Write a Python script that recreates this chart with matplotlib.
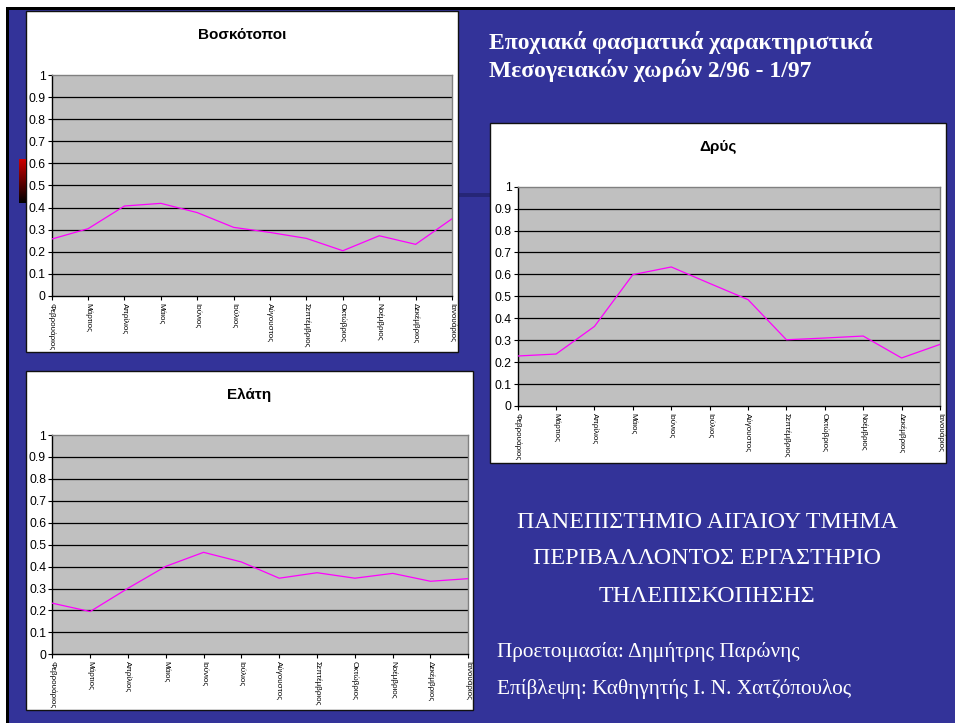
import matplotlib
matplotlib.use("Agg")
import matplotlib.pyplot as plt
import numpy as np
from matplotlib.patches import Rectangle
from matplotlib.colors import LinearSegmentedColormap

W, H = 955, 723

months = ["Φεβρουάριος", "Μάρτιος", "Απρίλιος", "Μάιος", "Ιούνιος", "Ιούλιος",
          "Αύγουστος", "Σεπτέμβριος", "Οκτώβριος", "Νοέμβριος", "Δεκέμβριος",
          "Ιανουάριος"]

# seasonal spectral index per month, 2/96 - 1/97
voskotopoi = [0.257, 0.304, 0.407, 0.419, 0.377, 0.310, 0.287, 0.260, 0.204, 0.272, 0.233, 0.349]
drys = [0.228, 0.237, 0.363, 0.599, 0.634, 0.559, 0.485, 0.302, 0.310, 0.319, 0.219, 0.281]
elati = [0.233, 0.195, 0.301, 0.401, 0.465, 0.421, 0.347, 0.372, 0.347, 0.369, 0.333, 0.345]

yticks = [0, 0.1, 0.2, 0.3, 0.4, 0.5, 0.6, 0.7, 0.8, 0.9, 1]
ytick_labels = ["0", "0.1", "0.2", "0.3", "0.4", "0.5", "0.6", "0.7", "0.8", "0.9", "1"]

BLUE = "#333399"
SANS = ["Liberation Sans", "DejaVu Sans"]
SERIF = ["Liberation Serif", "DejaVu Serif"]


def fx(x):
    return x / W


def fy(y):
    return 1 - y / H


def rect(x0, y0, x1, y1, **kw):
    r = Rectangle((fx(x0), fy(y1)), fx(x1) - fx(x0), fy(y0) - fy(y1),
                  transform=fig.transFigure, **kw)
    fig.add_artist(r)
    return r


def chart(box, plot, title, values):
    # white panel behind each chart
    rect(*box, facecolor="white", edgecolor="#111111", linewidth=1.0, zorder=-1)
    x0, y0, x1, y1 = plot
    ax = fig.add_axes([fx(x0), fy(y1), fx(x1) - fx(x0), fy(y0) - fy(y1)])
    ax.set_facecolor("#c0c0c0")
    x = np.arange(len(values))
    ax.plot(x, values, color="#ff00ff", linewidth=0.9, zorder=3)
    ax.set_xlim(0, len(values) - 1)
    ax.set_ylim(0, 1)
    ax.set_yticks(yticks)
    ax.set_yticklabels(ytick_labels, family=SANS, fontsize=8.8)
    ax.set_xticks(x)
    ax.set_xticklabels(months, rotation=270, family=SANS, fontsize=5.8)
    for y in yticks[1:-1]:
        ax.axhline(y, color="black", linewidth=0.9, zorder=2)
    for s in ["top", "right"]:
        ax.spines[s].set_color("#808080")
        ax.spines[s].set_linewidth(1.0)
    for s in ["left", "bottom"]:
        ax.spines[s].set_color("black")
        ax.spines[s].set_linewidth(1.0)
    ax.tick_params(axis="both", direction="out", length=3, width=0.8, color="black")
    ax.tick_params(axis="y", pad=1.5)
    ax.tick_params(axis="x", pad=2)
    cx = (box[0] + box[2]) / 2
    fig.text(fx(cx), fy(plot[1] - 40), title, ha="center", va="center",
             family=SANS, fontsize=11, fontweight="bold", color="black")
    return ax


fig = plt.figure(figsize=(W / 100, H / 100), dpi=100)
fig.patch.set_facecolor("white")

# slide background with dark frame on top and left
rect(9, 10, W + 2, H + 2, facecolor=BLUE, edgecolor="none", zorder=-3)
rect(6, 7, W + 2, 10, facecolor="black", edgecolor="none", zorder=-3)
rect(6, 7, 9, H + 2, facecolor="black", edgecolor="none", zorder=-3)

# connector bar and colour swatch
rect(458, 193, 490, 197, facecolor="#262677", edgecolor="none", zorder=-2)
sw = fig.add_axes([fx(19), fy(203), fx(26) - fx(19), fy(159) - fy(203)])
grad = np.linspace(1, 0, 64).reshape(-1, 1)
sw.imshow(grad, aspect="auto",
          cmap=LinearSegmentedColormap.from_list("rb", ["#000000", "#cc0000"]))
sw.axis("off")

chart((26, 11, 458, 352), (51.7, 75.3, 452, 295.7), "Βοσκότοποι", voskotopoi)
chart((490, 123, 946, 463), (517.7, 186.7, 940, 406), "Δρύς", drys)
chart((26, 371, 473, 710), (52.3, 435, 468.3, 654.3), "Ελάτη", elati)

fig.text(fx(489), fy(43), "Εποχιακά φασματικά χαρακτηριστικά", ha="left", va="center",
         family=SERIF, fontsize=17, fontweight="bold", color="white")
fig.text(fx(489), fy(71), "Μεσογειακών χωρών 2/96 - 1/97", ha="left", va="center",
         family=SERIF, fontsize=17, fontweight="bold", color="white")

for yy, line in zip([523, 559, 597], ["ΠΑΝΕΠΙΣΤΗΜΙΟ ΑΙΓΑΙΟΥ ΤΜΗΜΑ",
                                      "ΠΕΡΙΒΑΛΛΟΝΤΟΣ ΕΡΓΑΣΤΗΡΙΟ",
                                      "ΤΗΛΕΠΙΣΚΟΠΗΣΗΣ"]):
    fig.text(fx(707), fy(yy), line, ha="center", va="center",
             family=SERIF, fontsize=17.3, color="white")

fig.text(fx(497), fy(652), "Προετοιμασία: Δημήτρης Παρώνης", ha="left", va="center",
         family=SERIF, fontsize=15.3, color="white")
fig.text(fx(497), fy(689), "Επίβλεψη: Καθηγητής Ι. Ν. Χατζόπουλος", ha="left", va="center",
         family=SERIF, fontsize=15.3, color="white")

fig.savefig("out.png", dpi=100)
